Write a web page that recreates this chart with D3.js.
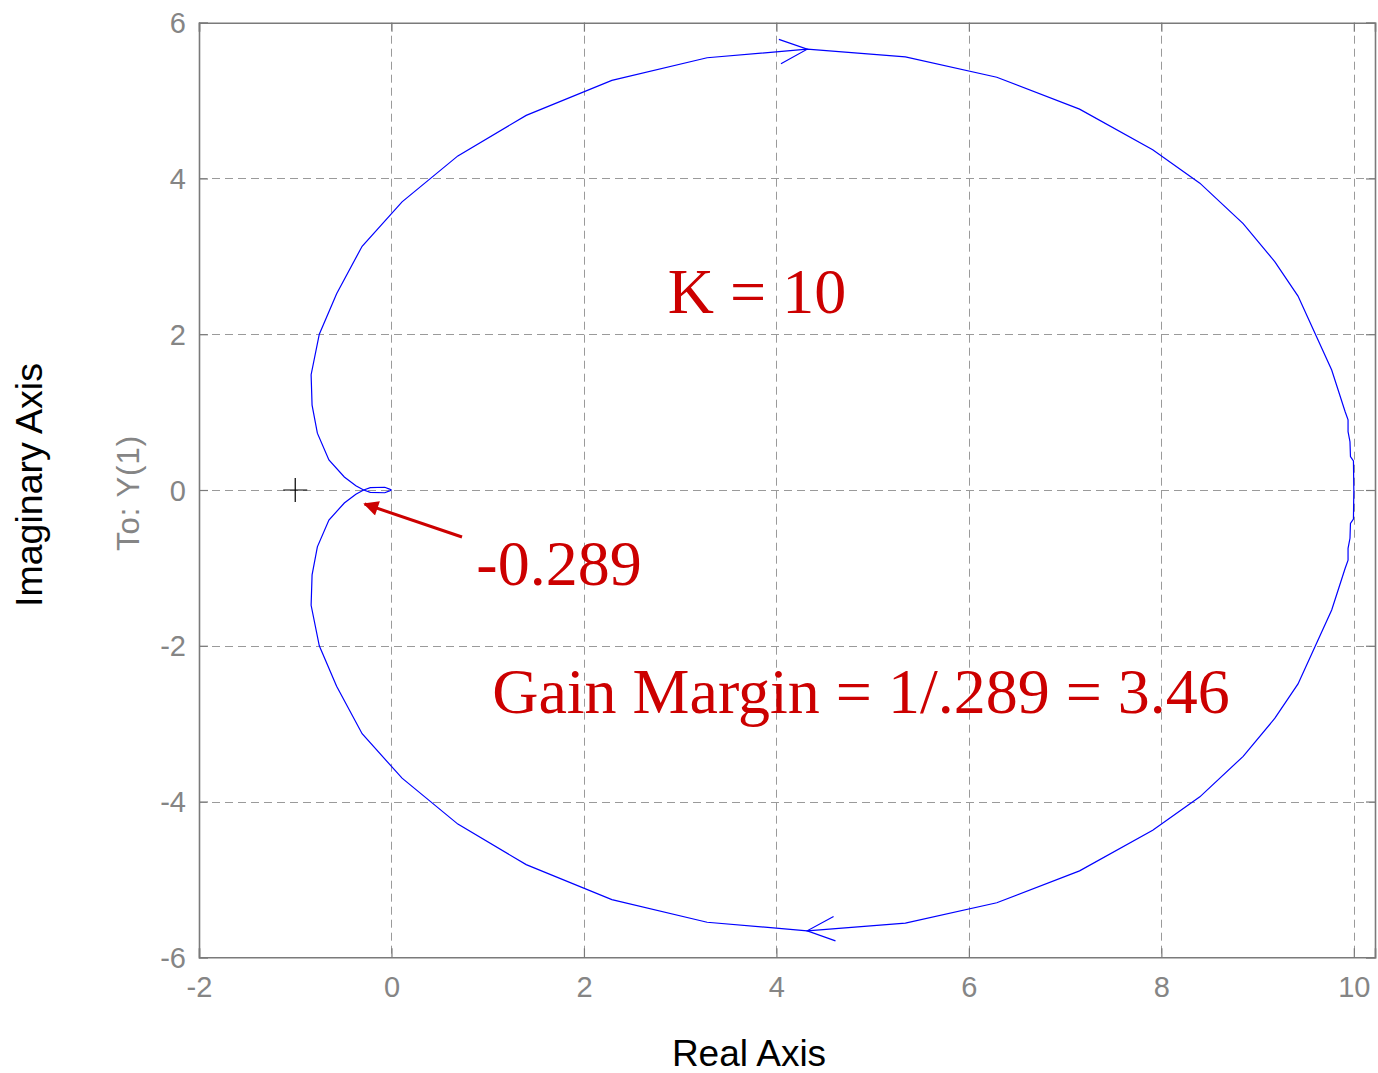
<!DOCTYPE html>
<html>
<head>
<meta charset="utf-8">
<script src="https://cdn.jsdelivr.net/npm/d3@7"></script>
<style>
  html, body { margin: 0; padding: 0; background: #fff; }
  svg { display: block; }
</style>
</head>
<body>
<svg id="chart" width="1378" height="1073"></svg>
<script>
// Nyquist plot of K*G(jw), K = 10. Positive-frequency branch (w from 0 to +inf);
// the negative-frequency branch is its complex conjugate.
const posRe = [10, 9.996, 9.965, 9.96, 9.94, 9.94, 9.91, 9.77, 9.42, 9.18, 8.85, 8.40, 7.91,
  7.15, 6.29, 5.34, 4.32, 3.28, 2.29, 1.40, 0.69, 0.11, -0.305, -0.57, -0.75, -0.835,
  -0.825, -0.77, -0.65, -0.49, -0.37, -0.289, -0.22, -0.07, -0.02, 0];
const posIm = [0, -0.372, -0.428, -0.62, -0.75, -0.90, -1.005, -1.54, -2.49, -2.93, -3.42,
  -3.94, -4.37, -4.89, -5.30, -5.56, -5.66, -5.55, -5.26, -4.81, -4.29, -3.70, -3.13,
  -2.52, -2.00, -1.48, -1.09, -0.73, -0.385, -0.167, -0.055, 0, 0.03, 0.035, 0.012, 0];

const xTicks = [-2, 0, 2, 4, 6, 8, 10];
const yTicks = [-6, -4, -2, 0, 2, 4, 6];
const xDomain = [-2, 10.22];
const yDomain = [-6, 6];

const criticalPoint = [-1, 0];
const crossing = -0.289;           // negative real-axis crossing
const gainMargin = 3.46;           // 1 / 0.289
const gainK = 10;

const svg = d3.select("#chart");
const W = 1378, H = 1073;
const m = { left: 199, right: 3, top: 22.7, bottom: 1073 - 957.3 };

const x = d3.scaleLinear().domain(xDomain).range([m.left, W - m.right]);
const y = d3.scaleLinear().domain(yDomain).range([H - m.bottom, m.top]);

const axisGray = "#7a7a7a";
const labelGray = "#858585";
const plainNum = d => String(d);   // ASCII hyphen for negatives

// grid
const grid = svg.append("g").attr("stroke", "#9a9a9a").attr("stroke-width", 1)
  .attr("stroke-dasharray", "8,5").attr("fill", "none");
grid.selectAll("line.v").data(xTicks).join("line")
  .attr("x1", d => Math.round(x(d)) + 0.5).attr("x2", d => Math.round(x(d)) + 0.5)
  .attr("y1", y(yDomain[1])).attr("y2", y(yDomain[0]));
grid.selectAll("line.h").data(yTicks).join("line")
  .attr("y1", d => Math.round(y(d)) + 0.5).attr("y2", d => Math.round(y(d)) + 0.5)
  .attr("x1", x(xDomain[0])).attr("x2", x(xDomain[1]));

// axes (ticks drawn inward, labels outward)
const fontSans = "'Liberation Sans', Arial, Helvetica, sans-serif";
const xAxisB = svg.append("g").attr("transform", `translate(0,${y(yDomain[0])})`)
  .call(d3.axisBottom(x).tickValues(xTicks).tickSize(-9).tickPadding(19).tickFormat(plainNum));
const xAxisT = svg.append("g").attr("transform", `translate(0,${y(yDomain[1])})`)
  .call(d3.axisTop(x).tickValues(xTicks).tickSize(-9).tickFormat(""));
const yAxisL = svg.append("g").attr("transform", `translate(${x(xDomain[0])},0)`)
  .call(d3.axisLeft(y).tickValues(yTicks).tickSize(-9).tickPadding(13).tickFormat(plainNum));
const yAxisR = svg.append("g").attr("transform", `translate(${x(xDomain[1])},0)`)
  .call(d3.axisRight(y).tickValues(yTicks).tickSize(-9).tickFormat(""));

[xAxisB, xAxisT, yAxisL, yAxisR].forEach(g => {
  g.select(".domain").attr("stroke", axisGray).attr("stroke-width", 1.6);
  g.selectAll(".tick line").attr("stroke", axisGray).attr("stroke-width", 1.2);
  g.selectAll(".tick text").attr("fill", labelGray)
    .style("font-family", fontSans).style("font-size", "29px");
});
xAxisB.selectAll(".tick text").attr("dy", "0.71em");
yAxisL.selectAll(".tick text").attr("dy", "0.35em");

// axis titles
svg.append("text").attr("x", 749).attr("y", 1066).attr("text-anchor", "middle")
  .style("font-family", fontSans).style("font-size", "37px").attr("fill", "#000")
  .text("Real Axis");
svg.append("text").attr("transform", "translate(42,485) rotate(-90)").attr("text-anchor", "middle")
  .style("font-family", fontSans).style("font-size", "37.5px").attr("fill", "#000")
  .text("Imaginary Axis");
svg.append("text").attr("transform", "translate(139,493) rotate(-90)").attr("text-anchor", "middle")
  .style("font-family", fontSans).style("font-size", "31px").style("letter-spacing", "1px")
  .attr("fill", labelGray)
  .text("To: Y(1)");

// Nyquist curve: negative frequencies (conjugate, traversed from origin to w = 0-)
// followed by positive frequencies (from w = 0+ to infinity)
const posPts = posRe.map((r, i) => [r, posIm[i]]);
const negPts = posPts.map(([r, im]) => [r, -im]).reverse();
const line = d3.line().x(d => x(d[0])).y(d => y(d[1]));
const curveG = svg.append("g").attr("fill", "none").attr("stroke", "#0000ff").attr("stroke-width", 1.2);
curveG.append("path").attr("d", line(negPts));
curveG.append("path").attr("d", line(posPts));

// direction chevrons at the extreme of each branch
function chevron(pts, idx) {
  const [x0, y0] = [x(pts[idx - 1][0]), y(pts[idx - 1][1])];
  const [x1, y1] = [x(pts[idx][0]), y(pts[idx][1])];
  const th = Math.atan2(y1 - y0, x1 - x0);
  const L = 30, a = 24 * Math.PI / 180;
  const p1 = [x1 - L * Math.cos(th + a), y1 - L * Math.sin(th + a)];
  const p2 = [x1 - L * Math.cos(th - a), y1 - L * Math.sin(th - a)];
  curveG.append("path").attr("d", `M${p1}L${x1},${y1}L${p2}`);
}
const peakIdx = d3.minIndex(posIm);
chevron(posPts, peakIdx);
chevron(negPts, negPts.length - 1 - peakIdx);

// critical point -1 + j0
const cx = x(criticalPoint[0]), cy = y(criticalPoint[1]);
svg.append("path").attr("d", `M${cx - 12},${cy}H${cx + 12}M${cx},${cy - 12}V${cy + 12}`)
  .attr("stroke", "#000").attr("stroke-width", 1.2).attr("fill", "none");

// annotations
const red = "#cc0000";
const fontSerif = "'Liberation Serif', 'Times New Roman', Times, serif";
svg.append("text").attr("x", 757).attr("y", 313).attr("text-anchor", "middle")
  .style("font-family", fontSerif).style("font-size", "64px").attr("fill", red)
  .text(`K = ${gainK}`);
svg.append("text").attr("x", 559).attr("y", 585).attr("text-anchor", "middle")
  .style("font-family", fontSerif).style("font-size", "64px").attr("fill", red)
  .text(`${crossing}`);
svg.append("text").attr("x", 861).attr("y", 713).attr("text-anchor", "middle")
  .style("font-family", fontSerif).style("font-size", "64px").attr("fill", red)
  .text(`Gain Margin = 1/${String(-crossing).replace(/^0/, "")} = ${gainMargin}`);

// arrow pointing at the real-axis crossing
svg.append("defs").append("marker").attr("id", "head")
  .attr("viewBox", "0 0 10 10").attr("refX", 9).attr("refY", 5)
  .attr("markerWidth", 6).attr("markerHeight", 5).attr("markerUnits", "strokeWidth")
  .attr("orient", "auto")
  .append("path").attr("d", "M0,0L10,5L0,10Z").attr("fill", red);
const tipX = x(crossing) + 1, tipY = y(0) + 14;
svg.append("line").attr("x1", 462).attr("y1", 537).attr("x2", tipX).attr("y2", tipY)
  .attr("stroke", red).attr("stroke-width", 3).attr("marker-end", "url(#head)");
</script>
</body>
</html>
